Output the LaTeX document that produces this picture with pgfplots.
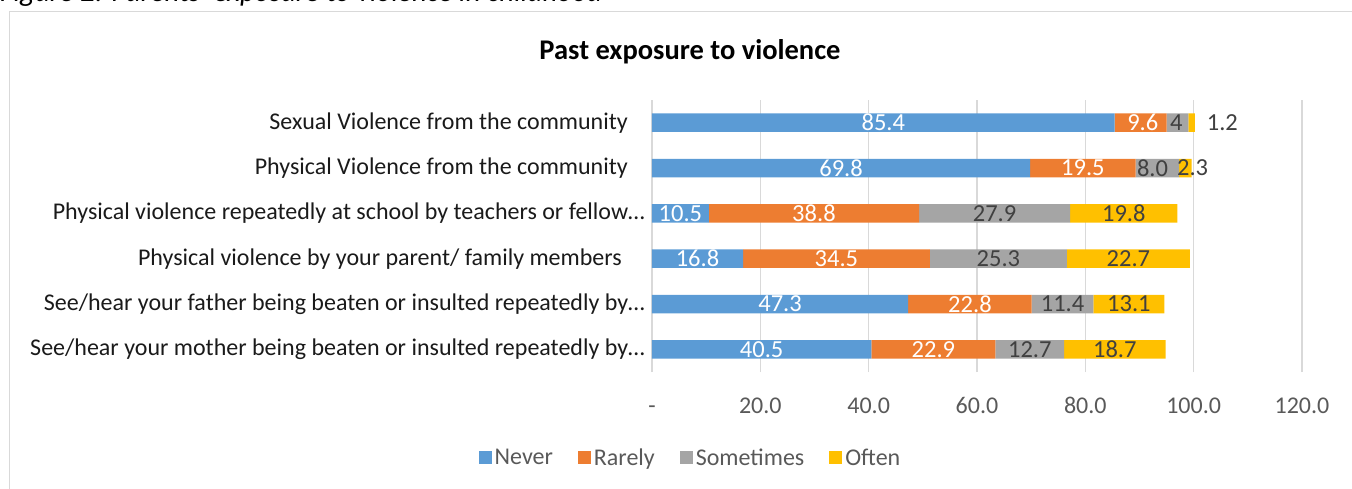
\documentclass[border=0pt]{standalone}
\usepackage{pgfplots}
\pgfplotsset{compat=1.18}
\usepackage{pgfplotstable}
\usepackage{fontspec}
\setmainfont{Carlito}
\definecolor{cNever}{HTML}{5B9BD5}
\definecolor{cRarely}{HTML}{ED7D31}
\definecolor{cSome}{HTML}{A5A5A5}
\definecolor{cOften}{HTML}{FFC000}
\definecolor{txt}{HTML}{595959}
\definecolor{lbl}{HTML}{404040}
\definecolor{cat}{HTML}{1A1A1A}
\definecolor{gridc}{HTML}{D9D9D9}

\pgfplotstableread{
row never rarely sometimes often
6 85.4 9.6 4.0 1.2
5 69.8 19.5 8.0 2.3
4 10.5 38.8 27.9 19.8
3 16.8 34.5 25.3 22.7
2 47.3 22.8 11.4 13.1
1 40.5 22.9 12.7 18.7
}\datatable

% label positions (segment midpoints)
\pgfplotstableread{
x y label
42.7 6 85.4
90.6 6 9.6
34.9 5 69.8
79.55 5 19.5
5.25 4 10.5
29.9 4 38.8
8.4 3 16.8
34.05 3 34.5
23.65 2 47.3
58.7 2 22.8
20.25 1 40.5
51.95 1 22.9
}\whitelabels
\pgfplotstableread{
x y label
96.8 6 4
105.3 6 1.2
92.4 5 8.0
99.8 5 2.3
63.25 4 27.9
87.1 4 19.8
63.95 3 25.3
87.95 3 22.7
75.8 2 11.4
88.05 2 13.1
69.75 1 12.7
85.45 1 18.7
}\darklabels

\pgfplotsset{
  base/.style={
    scale only axis, width=650pt, height=272pt,
    xmin=0, xmax=120, ymin=0.5, ymax=6.5,
    at={(652pt,-372pt)}, anchor=south west,
  },
}

\begin{document}
\begin{tikzpicture}[x=1pt,y=1pt]
\useasboundingbox (0,0) rectangle (1352,-489);
\begin{scope}
\clip (0,0) rectangle (1352,-9);
\node[anchor=base west, inner sep=0pt, font=\itshape\fontsize{29}{32}\selectfont, color=black] at (0,-1.5) {Figure 2: Parents’ exposure to violence in childhood};
\end{scope}
\draw[gridc, line width=1.2pt] (9.5,-11.5) rectangle (1362,-500);
\node[font=\bfseries\fontsize{28.5}{32}\selectfont, color=black] at (690,-52) {Past exposure to violence};

\begin{axis}[base,
  xbar stacked, bar width=18.5pt,
  axis line style={draw=none},
  xtick={0,20,...,120},
  xticklabels={-,20.0,40.0,60.0,80.0,100.0,120.0},
  xmajorgrids, major grid style={gridc, line width=1.2pt},
  tick style={draw=none},
  xticklabel style={font=\fontsize{24}{28}\selectfont, text=txt, anchor=base, yshift=-41pt},
  ytick={1,2,3,4,5,6},
  yticklabels={See/hear your mother being beaten or insulted repeatedly by…,
               See/hear your father being beaten or insulted repeatedly by…,
               Physical violence by your parent/ family members\hspace*{23pt},
               Physical violence repeatedly at school by teachers or fellow…,
               Physical Violence from the community\hspace*{17pt},
               Sexual Violence from the community\hspace*{17pt}},
  yticklabel style={font=\fontsize{24}{28}\selectfont, text=cat, inner sep=0pt, xshift=-7pt},
  legend columns=4,
  legend style={draw=none, fill=none, at={(0.06,-0.316)}, anchor=center,
    font=\fontsize{24}{28}\selectfont, text=txt,
    /tikz/every odd column/.append style={column sep=0pt},
    /tikz/every even column/.append style={column sep=22pt},
    nodes={inner sep=3pt}},
  legend image code/.code={\fill[#1, draw=none] (-3pt,-6.5pt) rectangle (10pt,6.5pt);},
]
\addplot[fill=cNever, draw=none] table[x=never, y=row] {\datatable};
\addplot[fill=cRarely, draw=none] table[x=rarely, y=row] {\datatable};
\addplot[fill=cSome, draw=none] table[x=sometimes, y=row] {\datatable};
\addplot[fill=cOften, draw=none] table[x=often, y=row] {\datatable};
\legend{Never, Rarely, Sometimes, Often}
\draw[gridc, line width=1.2pt] (axis cs:0,0.5) -- (axis cs:0,6.5);
\end{axis}

\begin{axis}[base, axis lines=none, clip=false]
\addplot[draw=none, mark=none, nodes near coords, point meta=explicit symbolic,
  every node near coord/.style={anchor=center, text=white, inner sep=0pt, font=\fontsize{24.5}{28}\selectfont}]
  table[x=x, y=y, meta=label] {\whitelabels};
\addplot[draw=none, mark=none, nodes near coords, point meta=explicit symbolic,
  every node near coord/.style={anchor=center, text=lbl, inner sep=0pt, font=\fontsize{24.5}{28}\selectfont}]
  table[x=x, y=y, meta=label] {\darklabels};
\end{axis}
\end{tikzpicture}
\end{document}
